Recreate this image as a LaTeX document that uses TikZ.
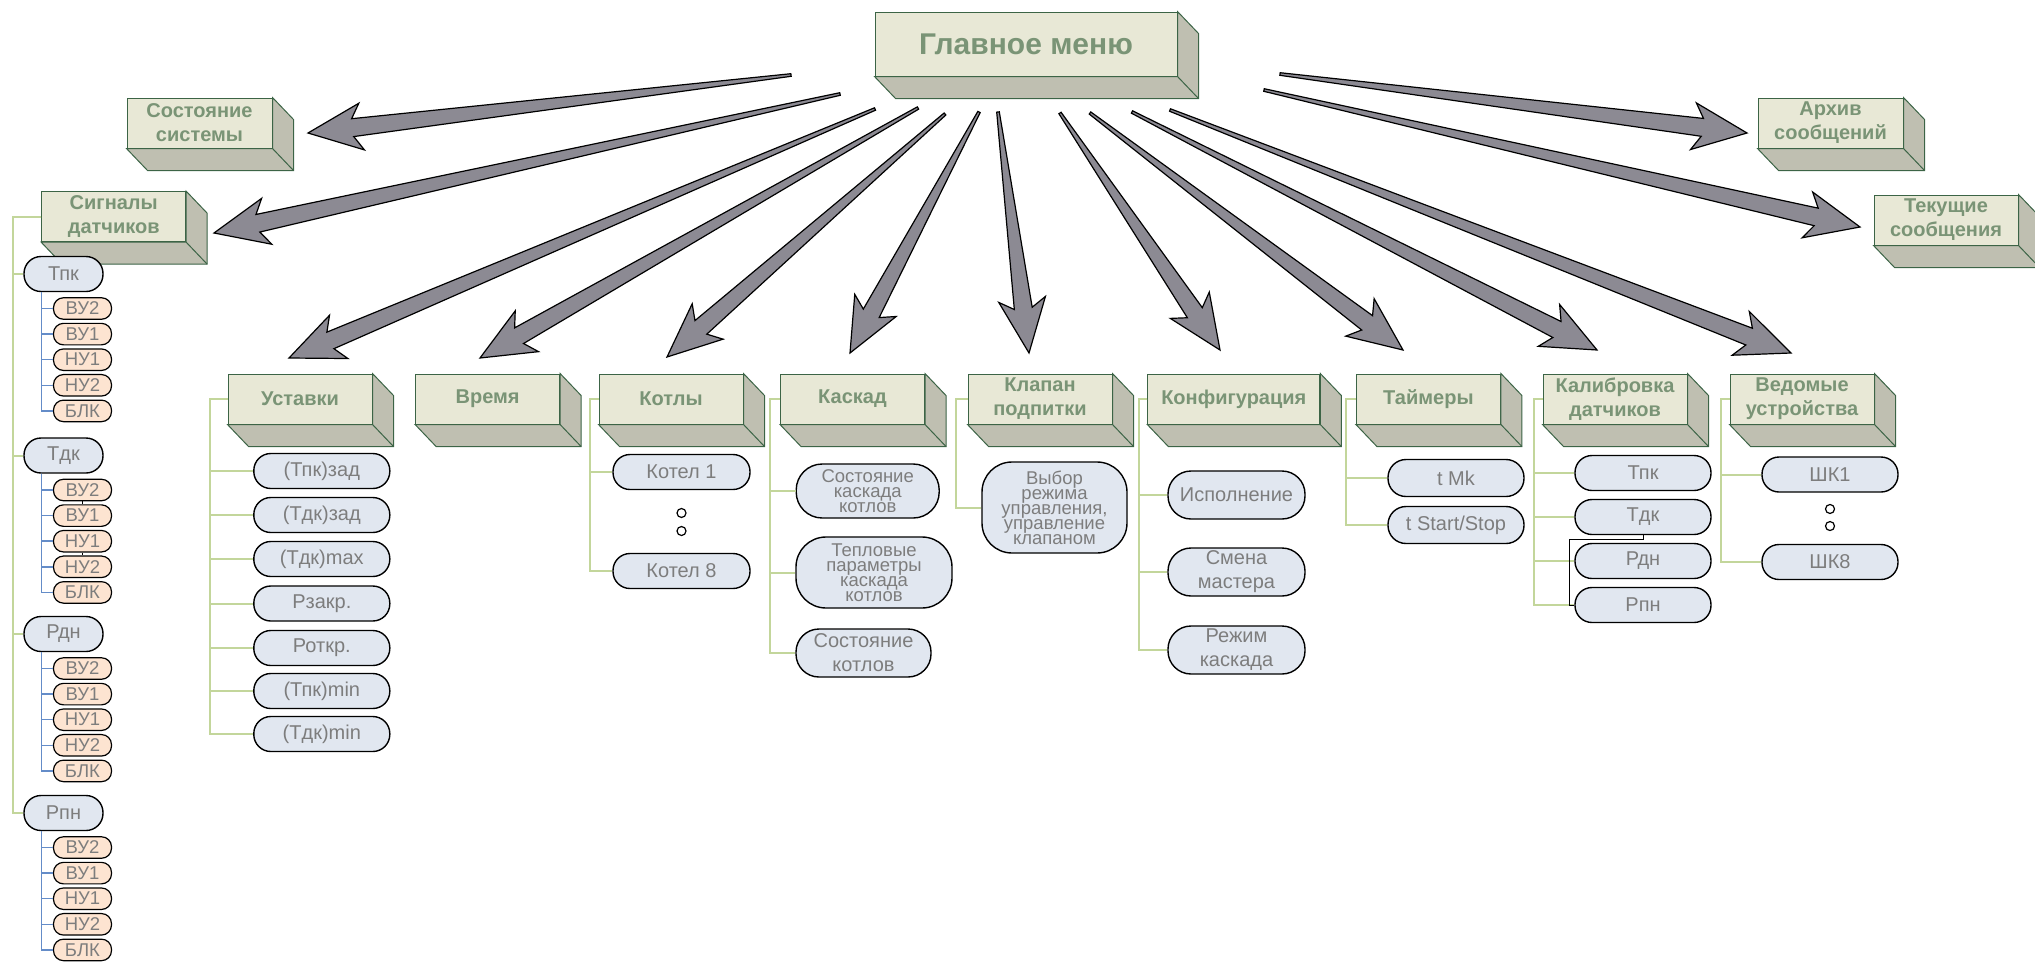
\documentclass[tikz,border=0pt]{standalone}
\usepackage{fontspec}
\setmainfont{Liberation Sans}
\usepackage{tikz}
\usetikzlibrary{calc}

\definecolor{boxfront}{RGB}{232,232,214}
\definecolor{boxsidecol}{RGB}{191,191,177}
\definecolor{boxedge}{RGB}{60,100,70}
\definecolor{boxtext}{RGB}{122,148,118}
\definecolor{arrowgray}{RGB}{140,138,147}
\definecolor{pillfill}{RGB}{225,231,240}
\definecolor{spillfill}{RGB}{253,228,209}
\definecolor{pilltext}{RGB}{125,125,125}
\definecolor{treegreen}{RGB}{195,214,155}
\definecolor{treeblue}{RGB}{100,140,200}

\tikzset{
  mbox/.style={draw=boxedge, line width=1pt, fill=boxfront, text=boxtext, align=center,
    font=\fontsize{20}{24}\selectfont\bfseries, minimum width=144pt, minimum height=50pt, inner sep=0pt},
  pill/.style={draw=black, line width=1.4pt, fill=pillfill, text=pilltext, align=center,
    font=\fontsize{20}{24}\selectfont, rounded corners=17pt, minimum width=136pt, minimum height=35pt, inner sep=0pt},
  tightpill/.style={pill, font=\fontsize{18.5}{15}\selectfont},
  senspill/.style={pill, minimum width=79pt},
  spill/.style={draw=black, line width=1.2pt, fill=spillfill, text=pilltext,
    font=\fontsize{18.5}{18}\selectfont, rounded corners=10pt, minimum width=58pt, minimum height=21.5pt, inner sep=0pt},
  greenline/.style={draw=treegreen, line width=2pt},
  blueline/.style={draw=treeblue, line width=1.5pt},
  thinblack/.style={draw=black, line width=0.8pt},
  fatarr/.style={fill=arrowgray, draw=black, line width=1.2pt},
  dotnode/.style={circle, draw=black, line width=1.2pt, fill=white, minimum size=9pt, inner sep=0pt}
}

% big tapered arrow from tail #1 to tip #2
\newcommand\fatarrow[2]{%
  \coordinate (fa-j) at ($(#2)!45pt!(#1)$);
  \coordinate (fa-b) at ($(#2)!54pt!(#1)$);
  \draw[fatarr] ($(#1)!1.3pt!90:(#2)$) -- ($(fa-j)!9pt!90:(#2)$) -- ($(fa-b)!23.5pt!90:(#2)$)
    -- (#2) -- ($(fa-b)!23.5pt!-90:(#2)$) -- ($(fa-j)!9pt!-90:(#2)$) -- ($(#1)!1.3pt!-90:(#2)$) -- cycle;
}
% bottom and right faces of a box
\newcommand\boxside[1]{%
  \draw[draw=boxedge, line width=1pt, fill=boxsidecol] (#1.south west) -- ++(21,22)
    -- ($(#1.south east)+(21,22)$) -- ($(#1.north east)+(21,22)$) -- (#1.north east) -- (#1.south east) -- cycle;
  \draw[draw=boxedge, line width=1pt] (#1.south east) -- ++(21,22);
}

\begin{document}
\begin{tikzpicture}[x=1pt,y=1pt,yscale=-1,xscale=1]
\useasboundingbox (0,0) rectangle (2035,962);

%Arrows from the main menu
\coordinate (t1) at (791,75);   \coordinate (h1) at (308,133);
\coordinate (t2) at (840,94);   \coordinate (h2) at (214,233);
\coordinate (t3) at (875,109);  \coordinate (h3) at (289,358);
\coordinate (t4) at (918,108);  \coordinate (h4) at (480,358);
\coordinate (t5) at (945,114);  \coordinate (h5) at (667,357);
\coordinate (t6) at (979,112);  \coordinate (h6) at (850,353);
\coordinate (t7) at (998,112);  \coordinate (h7) at (1029,353);
\coordinate (t8) at (1060,113); \coordinate (h8) at (1220,350);
\coordinate (t9) at (1090,113); \coordinate (h9) at (1403,350);
\coordinate (t10) at (1132,112); \coordinate (h10) at (1597,350);
\coordinate (t11) at (1170,110); \coordinate (h11) at (1791,353);
\coordinate (t12) at (1280,74);  \coordinate (h12) at (1747,133);
\coordinate (t13) at (1264,90);  \coordinate (h13) at (1860,227);
\foreach \i in {1,...,13} {\fatarrow{t\i}{h\i}}

%Boxes
\node[mbox, minimum width=302pt, minimum height=64pt, font=\fontsize{30}{36}\selectfont\bfseries] (menu) at (1026,44) {Главное меню};
\node[mbox, minimum width=145pt] (sost) at (199.5,123) {Состояние\\системы};
\node[mbox] (sig) at (113.7,216.7) {Сигналы\\датчиков};
\node[mbox, minimum width=145pt] (arch) at (1830.5,123) {Архив\\сообщений};
\node[mbox] (tek) at (1946,220) {Текущие\\сообщения};
\node[mbox] (ust) at (300,399) {Уставки};
\node[mbox] (vrem) at (487.6,399) {Время};
\node[mbox] (kotl) at (671,399) {Котлы};
\node[mbox] (kask) at (852.5,399) {Каскад};
\node[mbox] (klap) at (1040,399) {Клапан\\подпитки};
\node[mbox, minimum width=172pt] (konf) at (1233.8,399) {Конфигурация};
\node[mbox] (taim) at (1428.4,399) {Таймеры};
\node[mbox] (kalib) at (1615,399) {Калибровка\\датчиков};
\node[mbox] (ved) at (1802,399) {Ведомые\\устройства};
\foreach \b in {menu,sost,sig,arch,tek,ust,vrem,kotl,kask,klap,konf,taim,kalib,ved} {\boxside{\b}}

%Сигналы датчиков
\foreach \p/\y/\t in {tpk/274/Тпк, tdk/455.5/Тдк, rdn/634/Рдн, rpn/813/Рпн} {
  \node[senspill] (\p) at (63.5,\y) {\t};
  \draw[greenline] (sig.west) -- ++(-28.7,0) |- (\p.west);
  \foreach \i/\s in {1/ВУ2, 2/ВУ1, 3/НУ1, 4/НУ2, 5/БЛК} {
    \node[spill] (\p\i) at (82.5,{\y+34.5+(\i-1)*25.6}) {\s};
    \draw[blueline] ([xshift=18pt]\p.south west) |- (\p\i.west);
  }
}
\draw[thinblack] (tdk1.south) -- (tdk2.north);
\draw[thinblack] (tdk3.south) -- (tdk4.north);

%Уставки
\foreach \n/\y/\t in {u1/471/{(Тпк)зад}, u2/515/{(Тдк)зад}, u3/559/{(Тдк)max}, u4/603.5/{Рзакр.},
    u5/648/{Роткр.}, u6/691/{(Тпк)min}, u7/734/{(Тдк)min}} {
  \node[pill] (\n) at (321.8,\y) {\t};
  \draw[greenline] (ust.west) -- ++(-18,0) |- (\n.west);
}

%Котлы
\node[pill, minimum width=137pt] (kot1) at (681.5,472) {Котел 1};
\node[pill, minimum width=137pt] (kot8) at (681.5,571) {Котел 8};
\node[dotnode] (kd1) at ($(kot1)!0.414!(kot8)$) {};
\node[dotnode] (kd2) at ($(kot1)!0.596!(kot8)$) {};
\draw[greenline] (kotl.west) -- ++(-9,0) |- (kot1.west);
\draw[greenline] (kotl.west) -- ++(-9,0) |- (kot8.west);

%Каскад
\node[tightpill, minimum width=143pt, minimum height=54pt, rounded corners=26pt] (kas1) at (867.7,491) {Состояние\\каскада\\котлов};
\node[tightpill, minimum width=156pt, minimum height=71pt, rounded corners=30pt] (kas2) at (874,572.5) {Тепловые\\параметры\\каскада\\котлов};
\node[pill, minimum width=135pt, minimum height=48pt, rounded corners=23pt] (kas3) at (863.5,653) {Состояние\\котлов};
\foreach \n in {kas1,kas2,kas3} {\draw[greenline] (kask.west) -- ++(-10,0) |- (\n.west);}

%Клапан подпитки
\node[tightpill, minimum width=145pt, minimum height=91pt, rounded corners=30pt] (klv) at (1054.5,507.5) {Выбор\\режима\\управления,\\управление\\клапаном};
\draw[greenline] (klap.west) -- ++(-12,0) |- (klv.west);

%Конфигурация
\node[pill, minimum width=137pt, minimum height=48pt, rounded corners=23pt] (kf1) at (1236.5,495) {Исполнение};
\node[pill, minimum width=137pt, minimum height=48pt, rounded corners=23pt] (kf2) at (1236.5,572) {Смена\\мастера};
\node[pill, minimum width=137pt, minimum height=48pt, rounded corners=23pt] (kf3) at (1236.5,650) {Режим\\каскада};
\foreach \n in {kf1,kf2,kf3} {\draw[greenline] (konf.west) -- ++(-8,0) |- (\n.west);}

%Таймеры
\node[pill, minimum height=37pt, rounded corners=18pt] (tm1) at (1456,478) {t Mk};
\node[pill, minimum height=37pt, rounded corners=18pt] (tm2) at (1456,525) {t Start/Stop};
\foreach \n in {tm1,tm2} {\draw[greenline] (taim.west) -- ++(-10,0) |- (\n.west);}

%Калибровка датчиков
\foreach \n/\y/\t in {kc1/473/Тпк, kc2/517/Тдк, kc3/561/Рдн, kc4/605/Рпн} {
  \node[pill] (\n) at (1643,\y) {\t};
  \draw[greenline] (kalib.west) -- ++(-9,0) |- (\n.west);
}
\draw[thinblack] (kc2.south) -- ++(0,4) -| ([xshift=-4.5pt]kc4.west) -- (kc4.west);

%Ведомые устройства
\node[pill] (sk1) at (1830,474.5) {ШК1};
\node[pill] (sk8) at (1830,562) {ШК8};
\node[dotnode] (sd1) at ($(sk1)!0.394!(sk8)$) {};
\node[dotnode] (sd2) at ($(sk1)!0.589!(sk8)$) {};
\draw[greenline] (ved.west) -- ++(-9,0) |- (sk1.west);
\draw[greenline] (ved.west) -- ++(-9,0) |- (sk8.west);

\end{tikzpicture}
\end{document}
